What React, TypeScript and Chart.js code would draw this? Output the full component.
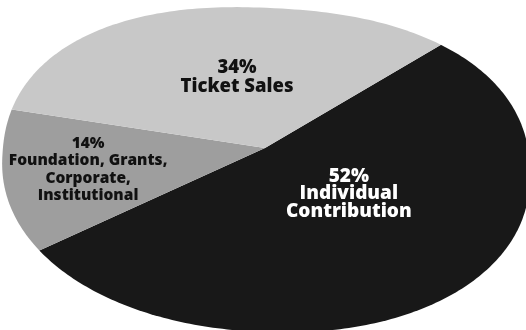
import React, { useEffect, useRef } from "react";
import { Chart, registerables } from "chart.js";

Chart.register(...registerables);

const categories = ["Individual Contribution", "Foundation, Grants, Corporate, Institutional", "Ticket Sales"];
const values = [52, 14, 34];
const labelLines = [
  ["52%", "Individual", "Contribution"],
  ["14%", "Foundation, Grants,", "Corporate,", "Institutional"],
  ["34%", "Ticket Sales"],
];
const sliceColors = ["#181818", "#9e9e9e", "#c8c8c8"];
const textColors = ["#ffffff", "#111111", "#111111"];
// label placement: [angle shift (deg), radial fraction, font size, line height]
const labelStyle = [
  [-8.1, 0.426, 19, 17.5],
  [0.1, 0.683, 15.5, 17.5],
  [1.3, 0.451, 18.5, 18.5],
];

// outline of the printed (slightly tilted, rounded) oval and the pie centre inside it
const SHAPE = { cx: 266, cy: 170, a: 264, b: 162, tilt: 0.05, nTop: 2.3, nBottom: 2.1 };
const PIE_CENTER = { x: 265, y: 148 };
const COVER = 1.4;

function outlinePath(ctx: CanvasRenderingContext2D) {
  const { cx, cy, a, b, tilt, nTop, nBottom } = SHAPE;
  const c = Math.cos(tilt);
  const s = Math.sin(tilt);
  ctx.beginPath();
  const N = 360;
  for (let i = 0; i <= N; i++) {
    const t = (i / N) * Math.PI * 2;
    const ct = Math.cos(t);
    const st = Math.sin(t);
    const n = st < 0 ? nTop : nBottom;
    const u = a * Math.sign(ct) * Math.pow(Math.abs(ct), 2 / n);
    const v = b * Math.sign(st) * Math.pow(Math.abs(st), 2 / n);
    const x = cx + u * c - v * s;
    const y = cy + u * s + v * c;
    if (i === 0) ctx.moveTo(x, y);
    else ctx.lineTo(x, y);
  }
  ctx.closePath();
}

const ovalPlugin = {
  id: "oval",
  beforeDatasetsDraw(chart: any) {
    const el = chart.getDatasetMeta(0).data[0] as any;
    if (!el) return;
    const { x, y, outerRadius } = el.getProps(["x", "y", "outerRadius"], true);
    const ctx = chart.ctx;
    ctx.save();
    outlinePath(ctx);
    ctx.clip();
    ctx.translate(PIE_CENTER.x, PIE_CENTER.y);
    ctx.scale((COVER * SHAPE.a) / outerRadius, (COVER * SHAPE.b) / outerRadius);
    ctx.translate(-x, -y);
  },
  afterDatasetsDraw(chart: any) {
    chart.ctx.restore();
  },
};

const labelPlugin = {
  id: "sliceLabels",
  afterDraw(chart: any) {
    const ctx = chart.ctx;
    const meta = chart.getDatasetMeta(0);
    meta.data.forEach((el: any, i: number) => {
      const { startAngle, endAngle } = el.getProps(["startAngle", "endAngle"], true);
      const [shift, rf, size, lh] = labelStyle[i];
      const mid = (startAngle + endAngle) / 2 + (shift * Math.PI) / 180;
      const px = PIE_CENTER.x + Math.cos(mid) * rf * SHAPE.a;
      const py = PIE_CENTER.y + Math.sin(mid) * rf * SHAPE.b;
      const lines = labelLines[i];
      ctx.save();
      ctx.font = `800 ${size}px "Open Sans", sans-serif`;
      ctx.fillStyle = textColors[i];
      ctx.textAlign = "center";
      ctx.textBaseline = "middle";
      const top = py - ((lines.length - 1) * lh) / 2;
      lines.forEach((t, k) => ctx.fillText(t, px, top + k * lh));
      ctx.restore();
    });
  },
};

export default function App() {
  const ref = useRef<HTMLCanvasElement>(null);
  useEffect(() => {
    if (!ref.current) return;
    const chart = new Chart(ref.current, {
      type: "pie",
      data: {
        labels: categories,
        datasets: [
          {
            data: values,
            backgroundColor: sliceColors,
            borderWidth: 0,
          },
        ],
      },
      options: {
        animation: false,
        responsive: false,
        maintainAspectRatio: false,
        rotation: 46.3,
        layout: { padding: 0 },
        plugins: { legend: { display: false }, tooltip: { enabled: false } },
      },
      plugins: [ovalPlugin, labelPlugin],
    });
    return () => chart.destroy();
  }, []);
  return (
    <div style={{ position: "fixed", left: 0, top: 0, width: 526, height: 330, background: "#fff" }}>
      <canvas ref={ref} width={526} height={330} style={{ width: 526, height: 330, display: "block" }} />
    </div>
  );
}
